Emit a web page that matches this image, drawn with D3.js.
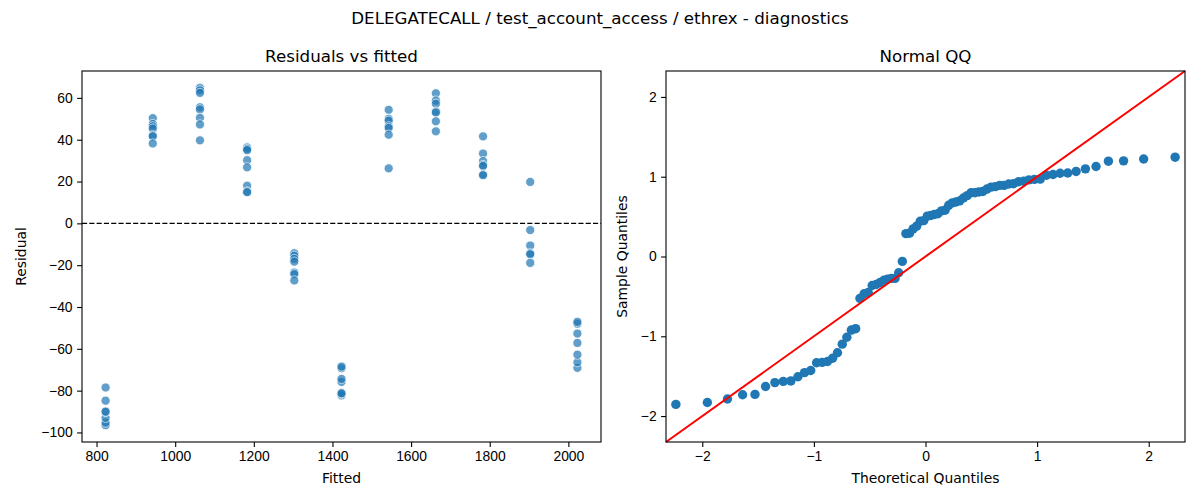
<!DOCTYPE html>
<html>
<head>
<meta charset="utf-8">
<script src="https://cdn.jsdelivr.net/npm/d3@7"></script>
<style>
  body { margin: 0; background: #fff; }
  svg { font-family: "DejaVu Sans", sans-serif; }
  .tick text { font-size: 13.9px; fill: #000; }
  .tick line { stroke: #000; stroke-width: 1.1; }
  .domain { display: none; }
</style>
</head>
<body>
<svg id="chart" width="1200" height="500"></svg>
<script>
// fitted level of each group and the residuals
var fittedLevels = [823, 943, 1063, 1183, 1303, 1423, 1543, 1663, 1783, 1903, 2023];
var residualGroups = [
  [-96.5, -95.3, -93.0, -90.2, -90.0, -84.8, -78.5],
  [50.3, 47.5, 46.4, 45.3, 42.1, 41.6, 38.2],
  [64.8, 63.6, 62.4, 55.5, 54.5, 50.5, 47.3, 39.7],
  [36.3, 35.6, 35.0, 30.2, 26.8, 18.0, 15.2, 14.9],
  [-14.3, -15.5, -17.0, -18.3, -23.5, -24.3, -27.3],
  [-82.3, -81.5, -81.2, -75.8, -74.4, -69.3, -68.5],
  [54.3, 50.0, 49.1, 46.4, 45.6, 42.4, 26.3],
  [62.2, 58.7, 57.2, 53.5, 53.0, 48.8, 44.0],
  [41.6, 33.4, 29.8, 27.9, 27.4, 23.4, 23.0],
  [19.8, -3.2, -10.6, -14.3, -14.8, -18.9],
  [-69.1, -66.4, -62.8, -57.2, -52.7, -48.0, -47.1]
];
var residTicks = [-100, -80, -60, -40, -20, 0, 20, 40, 60];
var fittedTicks = [800, 1000, 1200, 1400, 1600, 1800, 2000];
var qqTicks = [-2, -1, 0, 1, 2];
var qqLimit = 2.325;

var points = [];
fittedLevels.forEach(function(f, i) {
  residualGroups[i].forEach(function(r) { points.push({fitted: f, resid: r}); });
});

// inverse normal cdf (Acklam) for the theoretical quantiles
var invNorm = function(p) {
  var a = [-39.69683028665376, 220.9460984245205, -275.9285104469687, 138.3577518672690, -30.66479806614716, 2.506628277459239];
  var b = [-54.47609879822406, 161.5858368580409, -155.6989798598866, 66.80131188771972, -13.28068155288572];
  var c = [-0.007784894002430293, -0.3223964580411365, -2.400758277161838, -2.549732539343734, 4.374664141464968, 2.938163982698783];
  var d = [0.007784695709041462, 0.3224671290700398, 2.445134137142996, 3.754408661907416];
  var q, r;
  if (p < 0.02425) {
    q = Math.sqrt(-2 * Math.log(p));
    return (((((c[0]*q+c[1])*q+c[2])*q+c[3])*q+c[4])*q+c[5]) / ((((d[0]*q+d[1])*q+d[2])*q+d[3])*q+1);
  }
  if (p > 1 - 0.02425) return -invNorm(1 - p);
  q = p - 0.5; r = q * q;
  return (((((a[0]*r+a[1])*r+a[2])*r+a[3])*r+a[4])*r+a[5])*q / (((((b[0]*r+b[1])*r+b[2])*r+b[3])*r+b[4])*r+1);
};

var allResid = points.map(function(p) { return p.resid; });
var sorted = allResid.slice().sort(d3.ascending);
var n = sorted.length;
// population std, like numpy's default
var sd = d3.deviation(allResid) * Math.sqrt((n - 1) / n);
var qq = sorted.map(function(r, i) {
  return {theo: invNorm((i + 1) / (n + 1)), sample: r / sd};
});

var svg = d3.select("#chart");
var minus = function(v) { return String(v).replace("-", "\u2212"); };

svg.append("text").attr("x", 600).attr("y", 24).attr("text-anchor", "middle")
  .style("font-size", "16.7px").text("DELEGATECALL / test_account_access / ethrex - diagnostics");

var plotTop = 71, plotBottom = 442;

var drawFrame = function(g, left, right, title, xlab, ylab, ylabX) {
  g.append("text").attr("x", (left + right) / 2).attr("y", 62).attr("text-anchor", "middle")
    .style("font-size", "16.7px").text(title);
  g.append("text").attr("x", (left + right) / 2).attr("y", 483).attr("text-anchor", "middle")
    .style("font-size", "13.9px").text(xlab);
  g.append("text").attr("transform", "translate(" + ylabX + "," + ((plotTop + plotBottom) / 2) + ") rotate(-90)")
    .attr("text-anchor", "middle").style("font-size", "13.9px").text(ylab);
};

var drawBorder = function(g, left, right) {
  g.append("rect").attr("x", left).attr("y", plotTop).attr("width", right - left).attr("height", plotBottom - plotTop)
    .attr("fill", "none").attr("stroke", "#000").attr("stroke-width", 1.1);
};

// left: residuals vs fitted
var L = svg.append("g");
var xPad = (d3.max(fittedLevels) - d3.min(fittedLevels)) * 0.05;
var yExt = d3.extent(allResid), yPad = (yExt[1] - yExt[0]) * 0.05;
var x1 = d3.scaleLinear().domain([d3.min(fittedLevels) - xPad, d3.max(fittedLevels) + xPad]).range([82, 601]);
var y1 = d3.scaleLinear().domain([yExt[0] - yPad, yExt[1] + yPad]).range([plotBottom, plotTop]);

L.append("g").attr("transform", "translate(0," + plotBottom + ")")
  .call(d3.axisBottom(x1).tickValues(fittedTicks).tickSize(4.9).tickPadding(4.5).tickFormat(d3.format("d")));
L.append("g").attr("transform", "translate(82,0)")
  .call(d3.axisLeft(y1).tickValues(residTicks).tickSize(4.9).tickPadding(4.5).tickFormat(minus));

L.append("line").attr("x1", 82).attr("x2", 601).attr("y1", y1(0)).attr("y2", y1(0))
  .attr("stroke", "#000").attr("stroke-width", 1.2).attr("stroke-dasharray", "5.1,2.2");

L.selectAll("circle.res").data(points).enter().append("circle")
  .attr("class", "res")
  .attr("cx", function(d) { return x1(d.fitted); })
  .attr("cy", function(d) { return y1(d.resid); })
  .attr("r", 4.6)
  .attr("fill", "#1f77b4").attr("stroke", "#fff").attr("stroke-width", 0.9)
  .attr("opacity", 0.7);

drawBorder(L, 82, 601);
drawFrame(L, 82, 601, "Residuals vs fitted", "Fitted", "Residual", 26);

// right: normal QQ
var R = svg.append("g");
var x2 = d3.scaleLinear().domain([-qqLimit, qqLimit]).range([666, 1185]);
var y2 = d3.scaleLinear().domain([-qqLimit, qqLimit]).range([plotBottom, plotTop]);

R.append("g").attr("transform", "translate(0," + plotBottom + ")")
  .call(d3.axisBottom(x2).tickValues(qqTicks).tickSize(4.9).tickPadding(4.5).tickFormat(minus));
R.append("g").attr("transform", "translate(666,0)")
  .call(d3.axisLeft(y2).tickValues(qqTicks).tickSize(4.9).tickPadding(4.5).tickFormat(minus));

R.selectAll("circle.qq").data(qq).enter().append("circle")
  .attr("class", "qq")
  .attr("cx", function(d) { return x2(d.theo); })
  .attr("cy", function(d) { return y2(d.sample); })
  .attr("r", 4.7)
  .attr("fill", "#1f77b4");

R.append("line").attr("x1", x2(-qqLimit)).attr("y1", y2(-qqLimit))
  .attr("x2", x2(qqLimit)).attr("y2", y2(qqLimit))
  .attr("stroke", "#ff0000").attr("stroke-width", 2);

drawBorder(R, 666, 1185);
drawFrame(R, 666, 1185, "Normal QQ", "Theoretical Quantiles", "Sample Quantiles", 627);
</script>
</body>
</html>
